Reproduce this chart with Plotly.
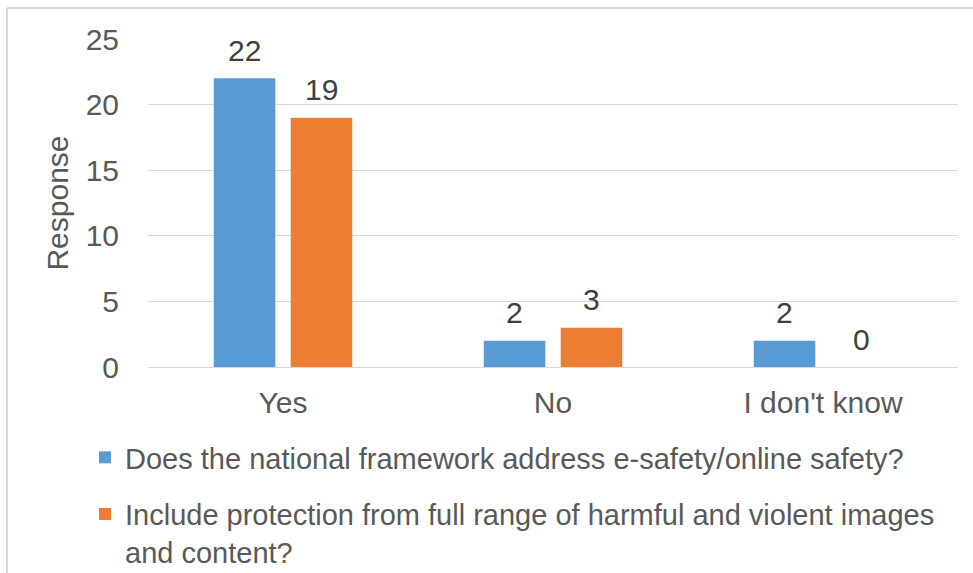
import plotly.graph_objects as go

categories = ["Yes", "No", "I don't know"]
series_names = [
    "Does the national framework address e-safety/online safety?",
    "Include protection from full range of harmful and violent images<br>and content?",
]
series1 = [22, 2, 2]
series2 = [19, 3, 0]
colors = ["#5B9BD5", "#ED7D31"]

W, H = 973, 573
L, R, T, B = 148, 15, 39, 206
pw, ph = W - L - R, H - T - B

def px_x(x):
    return (x - L) / pw

def px_y(y):
    return (H - B - y) / ph

fig = go.Figure()
for i, (name, vals) in enumerate(zip(series_names, [series1, series2])):
    fig.add_trace(go.Bar(
        x=categories, y=vals, name=name, marker_color=colors[i],
        marker_line_width=0, legendgroup=f"g{i}",
    ))

# data labels
slot = pw / 3 * (1 - 0.43) / 2
for i, vals in enumerate([series1, series2]):
    shift = (i - 0.5) * slot
    for c, v in zip(categories, vals):
        fig.add_annotation(
            x=c, y=v, text=str(v), showarrow=False, xshift=shift, yshift=28,
            yanchor="middle", font=dict(family="Liberation Sans, Arial", size=30, color="#404040"),
        )

grid = "#d9d9d9"
fig.update_layout(
    width=W, height=H,
    margin=dict(l=L, r=R, t=T, b=B, autoexpand=False),
    paper_bgcolor="white", plot_bgcolor="white",
    barmode="group", bargap=0.43, bargroupgap=0.2,
    font=dict(family="Liberation Sans, Arial", size=30, color="#595959"),
    showlegend=True,
    legend=dict(
        x=px_x(85), xanchor="left", y=px_y(432), yanchor="top",
        traceorder="grouped", tracegroupgap=16, valign="top",
        font=dict(size=29, color="#595959"), bgcolor="rgba(0,0,0,0)",
    ),
    xaxis=dict(showgrid=False, showline=False, ticks="", ticklabelstandoff=15,
               tickfont=dict(size=30, color="#595959")),
    yaxis=dict(range=[0, 25], dtick=5, showgrid=True, gridcolor=grid, gridwidth=1,
               zeroline=True, zerolinecolor=grid, zerolinewidth=1, showline=False,
               ticks="", ticklabelstandoff=28,
               tickfont=dict(size=30, color="#595959"),
               title=dict(text="Response", standoff=8, font=dict(size=30, color="#595959"))),
    shapes=[
        dict(type="line", xref="paper", yref="paper", x0=px_x(7), x1=px_x(975),
             y0=px_y(8), y1=px_y(8), line=dict(color=grid, width=2)),
        dict(type="line", xref="paper", yref="paper", x0=px_x(7), x1=px_x(7),
             y0=px_y(8), y1=px_y(580), line=dict(color=grid, width=2)),
    ],
)
fig.write_html("out.html")
